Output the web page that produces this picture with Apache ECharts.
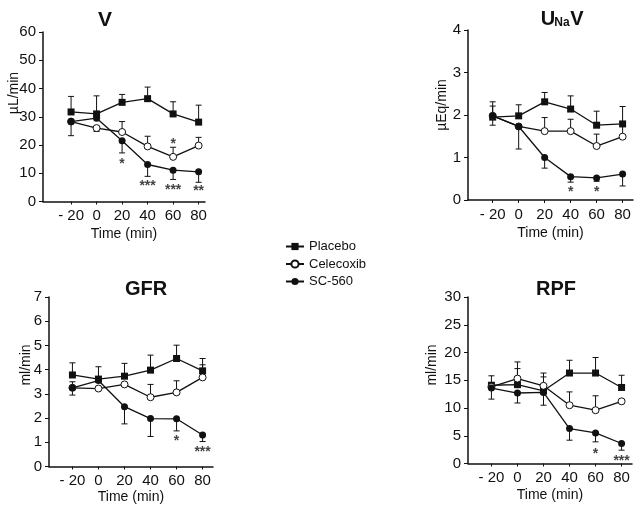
<!DOCTYPE html>
<html>
<head>
<meta charset="utf-8">
<script src="https://cdn.jsdelivr.net/npm/echarts@6/dist/echarts.min.js"></script>
<style>
  html, body { margin: 0; padding: 0; background: #fff; }
  #chart { width: 640px; height: 515px; }
</style>
</head>
<body>
<div id="chart"></div>
<script>
// time points (min) and their tick labels
var times = [-20, 0, 20, 40, 60, 80];
var timeLabels = ['- 20', '0', '20', '40', '60', '80'];
var groups = ['Placebo', 'Celecoxib', 'SC-560'];

// V (µL/min)
var vPlacebo = [31.7, 31.0, 35.1, 36.4, 31.0, 28.1];
var vPlaceboErr = [37.2, 37.4, 37.9, 40.5, 35.3, 34.1];
var vCelecoxib = [28.3, 26.0, 24.6, 19.5, 15.8, 19.8];
var vCelecoxibErr = [null, 24.8, 28.3, 23.1, 19.2, 22.7];
var vSC560 = [28.3, 29.5, 21.5, 13.1, 11.1, 10.5];
var vSC560Err = [23.3, null, 17.2, 8.9, 7.8, 6.8];
var vStars = [[20, 14.2, '*'], [60, 21.3, '*'], [40, 6.4, '***'], [60, 5.2, '***'], [80, 4.6, '**']];

// UNaV (µEq/min)
var uPlacebo = [1.95, 1.98, 2.31, 2.14, 1.76, 1.79];
var uPlaceboErr = [2.31, 2.24, 2.53, 2.45, 2.09, 2.2];
var uCelecoxib = [1.98, 1.73, 1.62, 1.62, 1.27, 1.49];
var uCelecoxibErr = [2.21, null, 1.94, 1.9, 1.55, 1.8];
var uSC560 = [1.98, 1.73, 1.0, 0.55, 0.52, 0.61];
var uSC560Err = [1.76, 1.2, 0.75, 0.42, 0.44, 0.33];
var uStars = [[40, 0.25, '*'], [60, 0.25, '*']];

// GFR (ml/min)
var gPlacebo = [3.78, 3.61, 3.73, 3.98, 4.46, 3.95];
var gPlaceboErr = [4.28, 4.12, 4.26, 4.6, 5.01, 4.46];
var gCelecoxib = [3.25, 3.22, 3.39, 2.86, 3.06, 3.68];
var gCelecoxibErr = [3.5, null, null, 3.39, 3.54, 4.2];
var gSC560 = [3.25, 3.55, 2.47, 1.98, 1.97, 1.3];
var gSC560Err = [2.95, null, 1.76, 1.24, 1.47, 1.03];
var gStars = [[60, 1.19, '*'], [80, 0.72, '***']];

// RPF (ml/min)
var rPlacebo = [14.1, 14.2, 13.1, 16.3, 16.3, 13.7];
var rPlaceboErr = [15.8, 17.1, 15.6, 18.6, 19.1, 15.9];
var rCelecoxib = [13.8, 15.3, 14.0, 10.5, 9.6, 11.2];
var rCelecoxibErr = [null, 18.3, 16.3, 12.9, 12.2, null];
var rSC560 = [13.6, 12.7, 12.8, 6.3, 5.5, 3.6];
var rSC560Err = [11.6, 10.9, 10.5, 4.2, 3.9, 2.4];
var rStars = [[60, 2.3, '*'], [80, 1.0, '***']];

var sans = '"Liberation Sans", Arial, sans-serif';
var ink = '#111';

var panels = [
  { grid: { left: 43, top: 32, width: 162, height: 169.5 }, xMin: -42, xMax: 85, yMax: 60, yStep: 10,
    data: [vPlacebo, vCelecoxib, vSC560], err: [vPlaceboErr, vCelecoxibErr, vSC560Err], stars: vStars, nameGap: 26 },
  { grid: { left: 468, top: 30, width: 165, height: 170 }, xMin: -39, xMax: 88, yMax: 4, yStep: 1,
    data: [uPlacebo, uCelecoxib, uSC560], err: [uPlaceboErr, uCelecoxibErr, uSC560Err], stars: uStars, nameGap: 26 },
  { grid: { left: 49, top: 297, width: 164, height: 169.5 }, xMin: -38, xMax: 88, yMax: 7, yStep: 1,
    data: [gPlacebo, gCelecoxib, gSC560], err: [gPlaceboErr, gCelecoxibErr, gSC560Err], stars: gStars, nameGap: 24 },
  { grid: { left: 468, top: 297, width: 164, height: 166.5 }, xMin: -38, xMax: 88, yMax: 30, yStep: 5,
    data: [rPlacebo, rCelecoxib, rSC560], err: [rPlaceboErr, rCelecoxibErr, rSC560Err], stars: rStars, nameGap: 25 }
];

var markers = [
  { symbol: 'rect', symbolSize: 7, itemStyle: { color: ink } },
  { symbol: 'circle', symbolSize: 7, itemStyle: { color: '#fff', borderColor: ink, borderWidth: 1 } },
  { symbol: 'circle', symbolSize: 7, itemStyle: { color: ink } }
];

function renderErr(params, api) {
  var p0 = api.coord([api.value(0), api.value(1)]);
  var p1 = api.coord([api.value(0), api.value(2)]);
  var st = { stroke: ink, lineWidth: 1 };
  return {
    type: 'group',
    children: [
      { type: 'line', shape: { x1: p0[0], y1: p0[1], x2: p1[0], y2: p1[1] }, style: st },
      { type: 'line', shape: { x1: p1[0] - 3, y1: p1[1], x2: p1[0] + 3, y2: p1[1] }, style: st }
    ]
  };
}

var grids = [], xAxes = [], yAxes = [], series = [];
panels.forEach(function (pn, i) {
  grids.push(pn.grid);
  xAxes.push({
    gridIndex: i, type: 'value', min: pn.xMin, max: pn.xMax,
    name: 'Time (min)', nameLocation: 'middle', nameGap: pn.nameGap,
    nameTextStyle: { fontFamily: sans, fontSize: 14, color: ink },
    axisLine: { onZero: false, lineStyle: { color: ink, width: 1.5 } },
    axisTick: { customValues: times, length: 3, lineStyle: { color: ink } },
    axisLabel: {
      customValues: times, margin: 7, fontFamily: sans, fontSize: 15, color: ink,
      formatter: function (v) { return timeLabels[times.indexOf(v)]; }
    },
    splitLine: { show: false }
  });
  yAxes.push({
    gridIndex: i, type: 'value', min: 0, max: pn.yMax, interval: pn.yStep,
    axisLine: { show: true, onZero: false, lineStyle: { color: ink, width: 1.5 } },
    axisTick: { show: true, length: 4, lineStyle: { color: ink } },
    axisLabel: { margin: 7, fontFamily: sans, fontSize: 15, color: ink },
    splitLine: { show: false }
  });
  pn.data.forEach(function (vals, k) {
    var errData = [];
    pn.err[k].forEach(function (e, j) {
      if (e !== null) errData.push([times[j], vals[j], e]);
    });
    series.push({
      type: 'custom', xAxisIndex: i, yAxisIndex: i, z: 1, silent: true,
      renderItem: renderErr, encode: { x: 0, y: [1, 2] }, data: errData
    });
    series.push({
      name: groups[k], type: 'line', xAxisIndex: i, yAxisIndex: i, z: 3,
      symbol: markers[k].symbol, symbolSize: markers[k].symbolSize,
      itemStyle: markers[k].itemStyle, showAllSymbol: true,
      lineStyle: { color: ink, width: 1.3 },
      data: times.map(function (t, j) { return [t, vals[j]]; })
    });
  });
  series.push({
    type: 'scatter', xAxisIndex: i, yAxisIndex: i, z: 4, symbolSize: 0, silent: true,
    label: {
      show: true, position: 'inside', offset: [0, 3], fontFamily: sans, fontSize: 14,
      fontWeight: 'bold', color: ink, formatter: function (p) { return p.value[2]; }
    },
    data: pn.stars
  });
});

function label(text, x, y, size, rot, weight) {
  return {
    type: 'text', x: x, y: y, rotation: rot || 0,
    style: {
      text: text, align: 'center', verticalAlign: 'middle', fill: ink,
      font: (weight || 'normal') + ' ' + size + 'px ' + sans
    }
  };
}

var option = {
  animation: false,
  backgroundColor: '#fff',
  grid: grids,
  xAxis: xAxes,
  yAxis: yAxes,
  legend: {
    data: groups, orient: 'vertical', left: 285, top: 240, padding: 0,
    itemWidth: 18, itemHeight: 9, itemGap: 4.5, selectedMode: false,
    textStyle: { fontFamily: sans, fontSize: 13, color: ink }
  },
  graphic: [
    label('V', 105, 20, 21, 0, 'bold'),
    label('U', 548, 19, 20, 0, 'bold'),
    label('Na', 562, 23, 12, 0, 'bold'),
    label('V', 577, 19, 20, 0, 'bold'),
    label('GFR', 146, 289, 20, 0, 'bold'),
    label('RPF', 556, 289, 20, 0, 'bold'),
    label('µL/min', 14, 93, 14, Math.PI / 2),
    label('µEq/min', 442, 105, 14, Math.PI / 2),
    label('ml/min', 26, 365, 14, Math.PI / 2),
    label('ml/min', 432, 365, 14, Math.PI / 2)
  ],
  series: series
};

var myChart = echarts.init(document.getElementById('chart'));
myChart.setOption(option);
</script>
</body>
</html>
